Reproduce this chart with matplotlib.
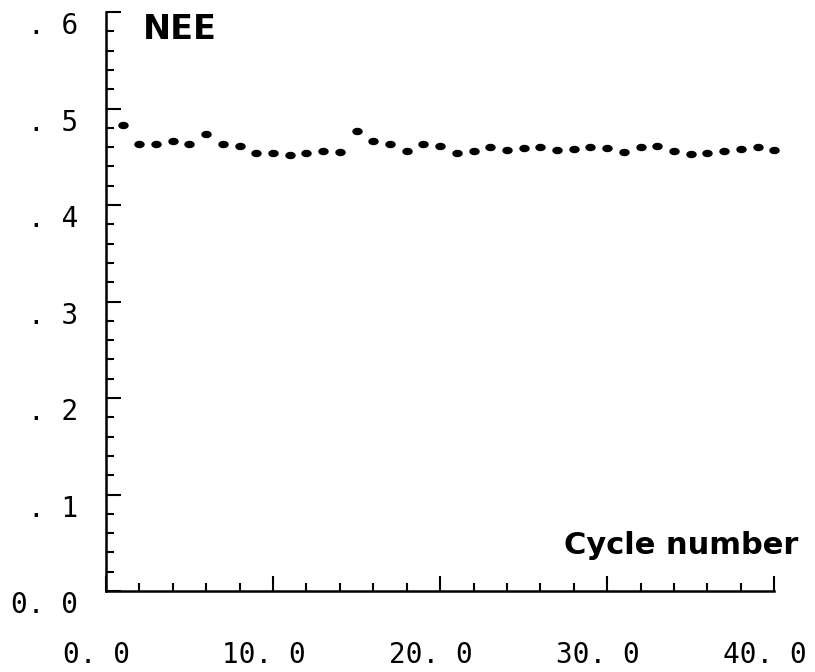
import matplotlib
matplotlib.use("Agg")
import matplotlib.pyplot as plt
import matplotlib.transforms as mtransforms
from matplotlib.path import Path
from matplotlib.ticker import FixedLocator, MultipleLocator
import numpy as np

# cycle numbers and NEE values
cycle = list(range(1, 41))
nee = [0.483, 0.463, 0.463, 0.466, 0.463, 0.474, 0.463, 0.461, 0.454, 0.454,
       0.452, 0.454, 0.456, 0.455, 0.477, 0.466, 0.463, 0.456, 0.463, 0.461,
       0.454, 0.456, 0.460, 0.457, 0.459, 0.460, 0.457, 0.458, 0.460, 0.459,
       0.455, 0.460, 0.461, 0.456, 0.453, 0.454, 0.456, 0.458, 0.460, 0.457]

x_ticks = [0, 10, 20, 30, 40]
x_labels = ["0. 0", "10. 0", "20. 0", "30. 0", "40. 0"]
y_ticks = [0.0, 0.1, 0.2, 0.3, 0.4, 0.5, 0.6]
y_labels = ["0. 0", ". 1", ". 2", ". 3", ". 4", ". 5", ". 6"]

fig = plt.figure(figsize=(8.15, 6.72), dpi=100)
ax = fig.add_axes([0.130, 0.1205, 0.820, 0.8615])

# flat dot, wider than tall
t = np.linspace(0, 2 * np.pi, 40)
dot = Path(np.column_stack([1.5 * np.cos(t), np.sin(t)]), closed=True)
ax.plot(cycle, nee, ls="none", marker=dot, ms=6.5, color="black", clip_on=False)

ax.set_xlim(0, 40)
ax.set_ylim(0, 0.6)
for s in ["top", "right"]:
    ax.spines[s].set_visible(False)
for s in ["left", "bottom"]:
    ax.spines[s].set_linewidth(1.8)

ax.xaxis.set_major_locator(FixedLocator(x_ticks))
ax.xaxis.set_minor_locator(MultipleLocator(2))
ax.yaxis.set_major_locator(FixedLocator(y_ticks))
ax.yaxis.set_minor_locator(MultipleLocator(0.02))
ax.set_xticklabels(x_labels)
ax.set_yticklabels(y_labels)

ax.tick_params(which="both", direction="in", width=1.5, top=False, right=False)
ax.tick_params(which="major", length=11)
ax.tick_params(which="minor", length=6)
ax.tick_params(axis="x", which="major", pad=36)
ax.tick_params(axis="y", which="major", pad=20)

for lab in ax.get_xticklabels() + ax.get_yticklabels():
    lab.set_fontfamily("DejaVu Sans Mono")
    lab.set_fontsize(20)

xoff = mtransforms.ScaledTranslation(-0.09, 0, fig.dpi_scale_trans)
for lab in ax.get_xticklabels():
    lab.set_transform(lab.get_transform() + xoff)
yoff = mtransforms.ScaledTranslation(0, -0.11, fig.dpi_scale_trans)
for lab in ax.get_yticklabels():
    lab.set_transform(lab.get_transform() + yoff)

fig.text(143 / 815, 1 - 39 / 672, "NEE", fontsize=24, fontweight="bold",
         family="DejaVu Sans", ha="left", va="baseline")
fig.text(798 / 815, 1 - 554 / 672, "Cycle number", fontsize=22, fontweight="bold",
         family="DejaVu Sans", ha="right", va="baseline")

fig.savefig("out.png", dpi=100)
